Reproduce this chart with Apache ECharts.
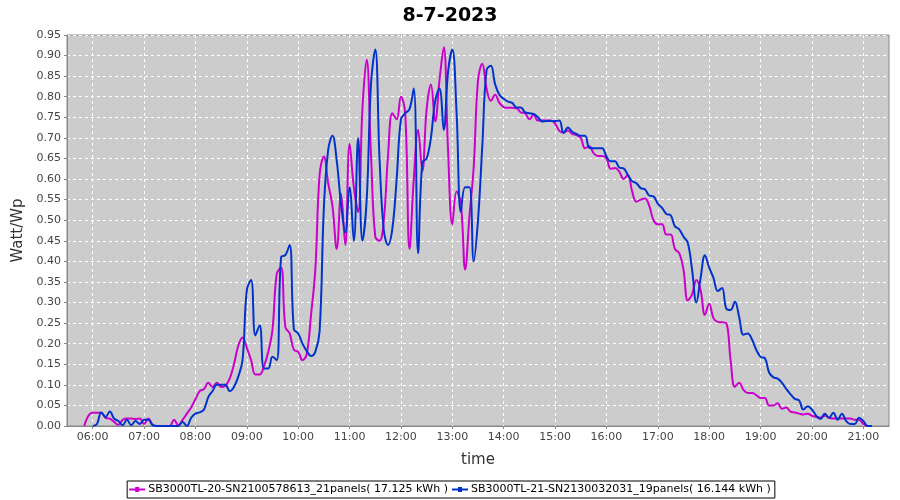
<!DOCTYPE html>
<html>
<head>
<meta charset="utf-8">
<script src="https://cdn.jsdelivr.net/npm/echarts@6/dist/echarts.min.js"></script>
<style>html,body{margin:0;padding:0;background:#fff}#c{width:900px;height:500px}</style>
</head>
<body>
<div id="c"></div>
<script>
// 5-minute sample times 05:30 .. 21:30
var startMinutes = 330, stepMinutes = 5, endMinutes = 1290;
var times = [];
for (var m = startMinutes; m <= endMinutes; m += stepMinutes) {
  var h = Math.floor(m / 60), mm = m % 60;
  times.push((h < 10 ? '0' : '') + h + ':' + (mm < 10 ? '0' : '') + mm);
}
var seriesNames = [
  'SB3000TL-20-SN2100578613_21panels( 17.125 kWh )',
  'SB3000TL-21-SN2130032031_19panels( 16.144 kWh )'
];
// values from 05:30 onward, every 5 minutes
var magenta = [null,null,null,null,
  0.0,0.025,0.032,0.032,0.032,0.02,0.018,0.01,0.003,0.015,0.018,0.018,0.017,0.018,
  0.005,0.018,0.003,0,0,0,0,0.015,0.002,0.015,0.03,0.045,
  0.065,0.085,0.09,0.105,0.095,0.105,0.095,0.098,0.115,0.15,0.195,0.215,
  0.19,0.16,0.125,0.125,0.145,0.18,0.235,0.37,0.385,0.24,0.225,0.185,
  0.18,0.16,0.175,0.27,0.38,0.61,0.655,0.59,0.535,0.43,0.565,0.44,
  0.685,0.58,0.52,0.77,0.89,0.66,0.46,0.45,0.5,0.66,0.76,0.745,
  0.8,0.76,0.43,0.6,0.72,0.62,0.77,0.83,0.74,0.84,0.92,0.67,
  0.49,0.57,0.54,0.38,0.51,0.63,0.84,0.88,0.82,0.79,0.805,0.785,
  0.775,0.773,0.773,0.772,0.762,0.76,0.745,0.757,0.742,0.742,0.742,0.742,
  0.735,0.717,0.713,0.718,0.71,0.707,0.7,0.675,0.68,0.663,0.656,0.656,
  0.65,0.625,0.627,0.618,0.6,0.61,0.57,0.545,0.55,0.553,0.535,0.5,
  0.49,0.49,0.465,0.465,0.43,0.42,0.38,0.305,0.32,0.355,0.33,0.27,
  0.297,0.262,0.253,0.252,0.25,0.16,0.095,0.105,0.088,0.08,0.08,0.075,
  0.068,0.068,0.05,0.05,0.055,0.042,0.045,0.035,0.033,0.03,0.028,0.03,
  0.025,0.022,0.02,0.025,0.02,0.018,0.018,0.018,0.018,0.018,0.015,0.015,
  0.005,0
];
var blue = [null,null,null,null,null,null,
  0,0.005,0.033,0.022,0.035,0.018,0.012,0.002,0.015,0.002,0.012,0.005,
  0.015,0.015,0.002,0,0,0,0,0,0,0.01,0,0.02,
  0.03,0.033,0.04,0.07,0.085,0.1,0.1,0.1,0.085,0.095,0.12,0.16,
  0.33,0.355,0.22,0.245,0.14,0.14,0.168,0.16,0.41,0.415,0.44,0.235,
  0.225,0.2,0.182,0.17,0.18,0.23,0.53,0.67,0.705,0.645,0.54,0.47,
  0.58,0.45,0.7,0.45,0.55,0.83,0.915,0.65,0.475,0.44,0.48,0.6,
  0.745,0.76,0.77,0.82,0.42,0.64,0.65,0.7,0.79,0.82,0.72,0.86,
  0.915,0.76,0.52,0.58,0.58,0.4,0.5,0.68,0.865,0.875,0.83,0.805,
  0.795,0.788,0.785,0.774,0.774,0.762,0.76,0.758,0.75,0.74,0.741,0.741,
  0.741,0.742,0.712,0.725,0.715,0.71,0.705,0.705,0.676,0.675,0.675,0.675,
  0.655,0.643,0.643,0.628,0.626,0.61,0.595,0.59,0.578,0.575,0.56,0.558,
  0.54,0.53,0.515,0.512,0.485,0.478,0.46,0.445,0.38,0.3,0.36,0.415,
  0.385,0.36,0.328,0.335,0.285,0.282,0.302,0.265,0.222,0.225,0.21,0.185,
  0.168,0.165,0.13,0.118,0.115,0.105,0.09,0.077,0.066,0.062,0.04,0.048,
  0.04,0.025,0.017,0.03,0.02,0.032,0.015,0.03,0.012,0.005,0.005,0.02,
  0.012,0,0
];
var colors = ['#cc00cc', '#0033cc'];
var fontFam = 'DejaVu Sans';
function isHour(idx, val) { return /:00$/.test(val); }

var chart = echarts.init(document.getElementById('c'), null, {renderer: 'canvas'});
chart.setOption({
  backgroundColor: '#ffffff',
  animation: false,
  title: {
    text: '8-7-2023', left: 'center', top: 2,
    textStyle: {fontFamily: fontFam, fontSize: 19, fontWeight: 'bold', color: '#000'}
  },
  legend: {
    bottom: 2, left: 'center',
    data: seriesNames,
    icon: 'path://M0,3 L16,3 L16,5 L0,5 Z M6,1.5 L10,1.5 L10,6.5 L6,6.5 Z',
    borderColor: '#000', borderWidth: 1, padding: [3, 4, 3, 2],
    itemGap: 4, itemWidth: 16, itemHeight: 6,
    textStyle: {fontFamily: fontFam, fontSize: 11, color: '#000', padding: [0, 0, 0, -2]}
  },
  grid: {
    left: 67, right: 11, top: 35, bottom: 74,
    show: true, backgroundColor: '#cccccc', borderColor: '#888', borderWidth: 1
  },
  xAxis: {
    type: 'category', data: times, boundaryGap: false,
    name: 'time', nameLocation: 'middle', nameGap: 27,
    nameTextStyle: {fontFamily: fontFam, fontSize: 15, color: '#333'},
    axisLine: {show: true, onZero: false, lineStyle: {color: '#888'}},
    axisTick: {show: true, interval: isHour, length: 3, lineStyle: {color: '#888'}},
    axisLabel: {interval: isHour, fontFamily: fontFam, fontSize: 11, color: '#444', margin: 6},
    splitLine: {show: true, interval: isHour, lineStyle: {color: '#ffffff', type: [3, 3], width: 1}}
  },
  yAxis: {
    type: 'value', min: 0, max: 0.95, interval: 0.05,
    name: 'Watt/Wp', nameLocation: 'middle', nameGap: 40,
    nameTextStyle: {fontFamily: fontFam, fontSize: 15, color: '#333'},
    axisLine: {show: true, lineStyle: {color: '#888'}},
    axisTick: {show: true, length: 3, lineStyle: {color: '#888'}},
    axisLabel: {fontFamily: fontFam, fontSize: 11, color: '#444', margin: 6,
      formatter: function (v) { return v.toFixed(2); }},
    splitLine: {show: true, lineStyle: {color: '#ffffff', type: [3, 3], width: 1}}
  },
  series: [
    {name: seriesNames[0], type: 'line', data: magenta, smooth: 0.4, showSymbol: false,
     lineStyle: {width: 2, color: colors[0]}, itemStyle: {color: colors[0]}},
    {name: seriesNames[1], type: 'line', data: blue, smooth: 0.4, showSymbol: false,
     lineStyle: {width: 2, color: colors[1]}, itemStyle: {color: colors[1]}}
  ]
});
</script>
</body>
</html>
